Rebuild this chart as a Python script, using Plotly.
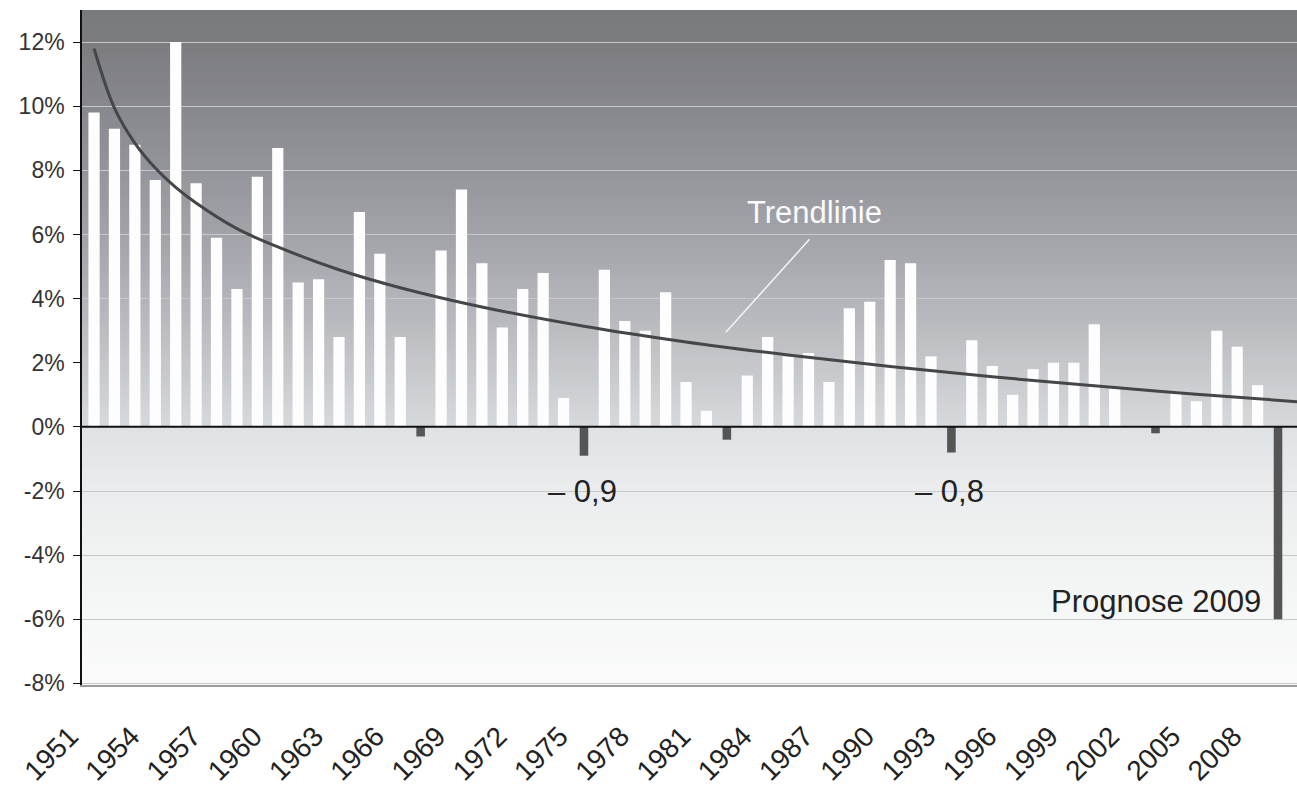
import plotly.graph_objects as go

# ---------------- data ----------------
years = list(range(1951, 2010))
growth = [
    9.8, 9.3, 8.8, 7.7, 12.0, 7.6, 5.9, 4.3, 7.8, 8.7,   # 1951-1960
    4.5, 4.6, 2.8, 6.7, 5.4, 2.8, -0.3, 5.5, 7.4, 5.1,   # 1961-1970
    3.1, 4.3, 4.8, 0.9, -0.9, 4.9, 3.3, 3.0, 4.2, 1.4,   # 1971-1980
    0.5, -0.4, 1.6, 2.8, 2.2, 2.3, 1.4, 3.7, 3.9, 5.2,   # 1981-1990
    5.1, 2.2, -0.8, 2.7, 1.9, 1.0, 1.8, 2.0, 2.0, 3.2,   # 1991-2000
    1.2, 0.0, -0.2, 1.1, 0.8, 3.0, 2.5, 1.3, -6.0,       # 2001-2009
]
trend_years = [1951, 1952, 1953, 1954, 1955, 1956, 1958, 1960, 1963, 1966, 1970,
               1975, 1980, 1985, 1990, 1995, 2000, 2005, 2010]
trend_vals = [11.8, 9.94, 8.85, 8.07, 7.47, 6.98, 6.18, 5.61, 4.90, 4.34, 3.74,
              3.14, 2.65, 2.24, 1.88, 1.56, 1.28, 1.02, 0.78]
tick_years = years[::3]
tick_labels = [str(y) for y in tick_years]
y_ticks = [12, 10, 8, 6, 4, 2, 0, -2, -4, -6, -8]
y_tick_labels = [f"{v}%" for v in y_ticks]

FONT = "Liberation Sans, Arial, sans-serif"
Y_MIN, Y_MAX = -8.05, 13.0

fig = go.Figure()

pos = [v if v >= 0 else None for v in growth]
neg = [v if v < 0 else None for v in growth]

fig.add_trace(go.Bar(x=years, y=pos, width=0.55,
                     marker=dict(color="#fdfdfd", line=dict(width=0)),
                     hoverinfo="x+y", showlegend=False))
fig.add_trace(go.Bar(x=years, y=neg, width=0.42,
                     marker=dict(color="#555555", line=dict(width=0)),
                     hoverinfo="x+y", showlegend=False))
fig.add_trace(go.Scatter(x=trend_years, y=trend_vals, mode="lines",
                         line=dict(color="#444648", width=3, shape="spline", smoothing=1.0),
                         hoverinfo="skip", showlegend=False))

# ---------------- background gradient (bands) ----------------
stops = [
    (13.0, (120, 123, 125)),
    (12.0, (124, 124, 128)),
    (10.0, (135, 136, 142)),
    (8.0, (148, 149, 155)),
    (6.0, (162, 163, 168)),
    (4.0, (178, 180, 185)),
    (2.0, (196, 198, 202)),
    (0.0, (215, 218, 221)),
    (-0.01, (223, 226, 229)),
    (-2.0, (234, 236, 237)),
    (-4.0, (241, 243, 243)),
    (-6.0, (246, 248, 247)),
    (-8.05, (250, 251, 250)),
]


def color_at(v):
    for (y0, c0), (y1, c1) in zip(stops[:-1], stops[1:]):
        if y1 <= v <= y0:
            t = (y0 - v) / (y0 - y1) if y0 != y1 else 0
            return "rgb(%d,%d,%d)" % tuple(round(a + (b - a) * t) for a, b in zip(c0, c1))
    return "rgb(250,251,250)"


shapes = []
n_bands = 170
step = (Y_MAX - Y_MIN) / n_bands
for i in range(n_bands):
    top = Y_MAX - i * step
    bot = top - step
    shapes.append(dict(type="rect", xref="paper", yref="y", x0=0, x1=1,
                       y0=max(Y_MIN, bot - 0.04), y1=top, layer="below",
                       line=dict(width=0), fillcolor=color_at((top + bot) / 2)))

# zero line drawn above the bars
shapes.append(dict(type="line", xref="paper", yref="y", x0=0, x1=1, y0=0, y1=0,
                   layer="above", line=dict(color="#111111", width=2)))
# pointer line for the "Trendlinie" label
shapes.append(dict(type="line", xref="x", yref="y", x0=1986.05, y0=5.85,
                   x1=1981.95, y1=2.95, line=dict(color="#f4f4f4", width=1.5)))

annotations = [
    dict(x=1986.3, y=6.7, xref="x", yref="y", text="Trendlinie", showarrow=False,
         font=dict(family=FONT, size=31, color="#fafafa")),
    dict(x=1974.95, y=-2.03, xref="x", yref="y", text="– 0,9", showarrow=False,
         font=dict(family=FONT, size=31, color="#222222")),
    dict(x=1992.9, y=-2.03, xref="x", yref="y", text="– 0,8", showarrow=False,
         font=dict(family=FONT, size=31, color="#222222")),
    dict(x=2008.25, y=-5.45, xref="x", yref="y", text="Prognose 2009", showarrow=False,
         xanchor="right", font=dict(family=FONT, size=31, color="#222222")),
]

fig.update_layout(
    width=1297, height=797,
    margin=dict(l=82, r=0, t=10, b=112),
    paper_bgcolor="white", plot_bgcolor="white",
    barmode="overlay",
    shapes=shapes, annotations=annotations,
    font=dict(family=FONT, color="#222222"),
    xaxis=dict(range=[1950.41, 2009.93], tickmode="array", tickvals=tick_years,
               ticktext=tick_labels, tickangle=-45, ticks="", showgrid=False,
               zeroline=False, showline=True, linecolor="#9a9a9a", linewidth=1.5,
               tickfont=dict(family=FONT, size=28, color="#222222"),
               ticklabelstandoff=22, ticklabelshift=-24, fixedrange=True),
    yaxis=dict(range=[Y_MIN, Y_MAX], tickmode="array", tickvals=y_ticks,
               ticktext=y_tick_labels, showgrid=True, gridcolor="#c6c8cb", gridwidth=1,
               zeroline=False,
               showline=True, linecolor="#111111", linewidth=1.5,
               ticks="outside", ticklen=7, tickcolor="#111111", tickwidth=1.2,
               tickfont=dict(family=FONT, size=23, color="#333333"),
               ticklabelstandoff=4, fixedrange=True),
)

fig.write_html(
    "out.html",
    config={"displayModeBar": False},
    post_script="document.body.style.margin='0';document.body.style.overflow='hidden';",
)
